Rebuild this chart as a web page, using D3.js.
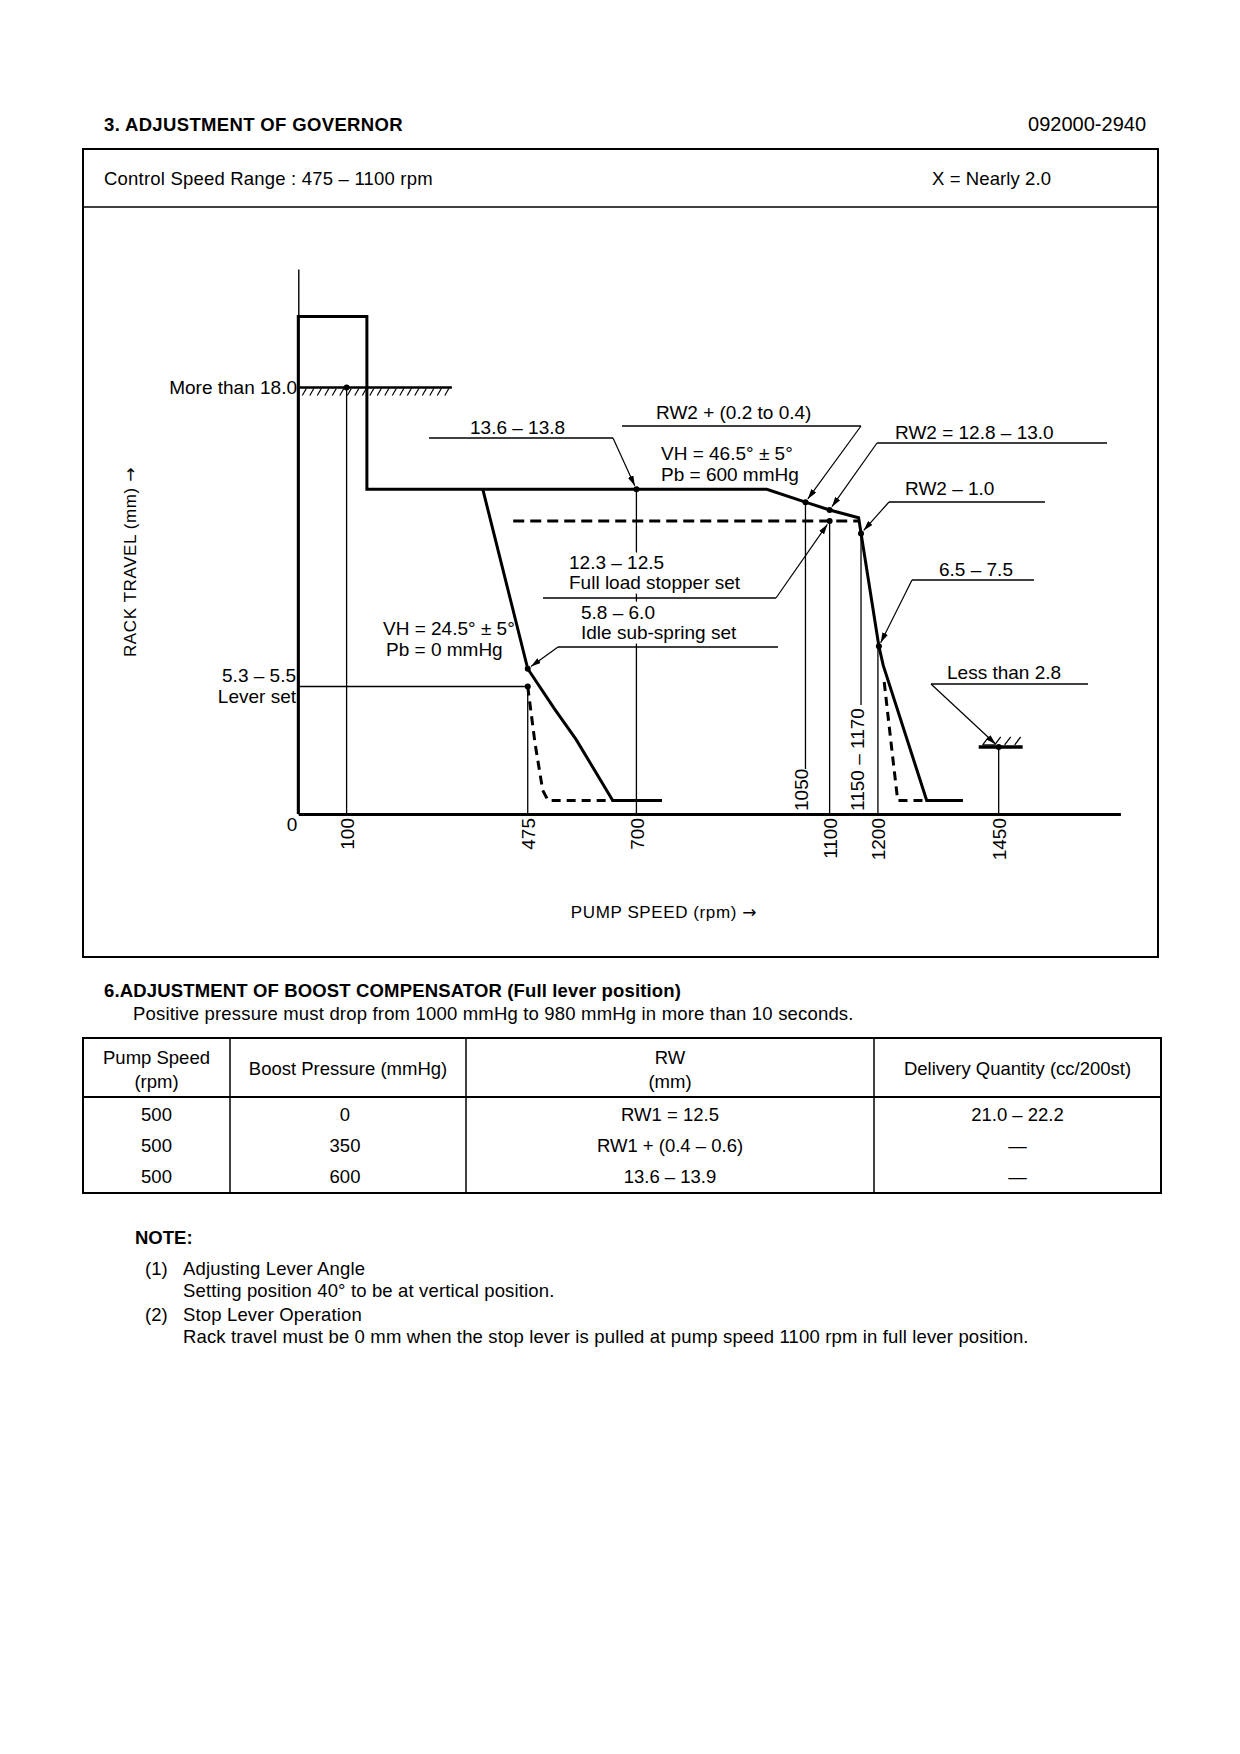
<!DOCTYPE html>
<html><head><meta charset="utf-8">
<script src="https://cdn.jsdelivr.net/npm/d3@7"></script>
<style>
body{margin:0;background:#fff}
svg text{font-family:"Liberation Sans",Arial,Helvetica,sans-serif;fill:#000}
</style></head><body>
<svg id="page" width="1240" height="1754"></svg>
<script>
// ---------------- DATA ----------------
const xTickValues = [100, 475, 700, 1100, 1200, 1450];
const xInnerTicks = [1050, 1165];
const xInnerTickLabels = ["1050", "1150 – 1170"];
const solidCurve = [[0,0],[0,21],[142,21],[142,13.7],[970,13.7],[1050,13.16],[1100,12.83],[1160,12.5],[1202,7.08],[1211,6.27],[1301,0.57],[1376,0.57]];
const idleCurve = [[382,13.7],[475,6.13],[530,4.45],[575,3.15],[651,0.57],[753,0.57]];
const idleDashed = [[475,5.38],[490,3.0],[506,1.0],[517,0.57],[651,0.57]];
const cutoffDashed = [[1213,5.57],[1230,2.5],[1241,0.57],[1301,0.57]];
const stopperLine = [[445,12.36],[1160,12.36]];
const refRpm = [100, 475, 700, 1050, 1100, 1165, 1200, 1450];
const refFrom = [0, 0, 0, 1.9, 0, 4.6, 0, 0];
const refTo = [18, 5.38, 13.7, 13.16, 12.36, 11.84, 7.08, 2.83];
const pointRpm = [100, 475, 475, 700, 1050, 1100, 1100, 1165, 1202, 1450];
const pointMm = [18, 6.13, 5.38, 13.7, 13.16, 12.83, 12.36, 11.84, 7.08, 2.83];
const maxRackMm = 18.0, maxRackEnd = 318;
const leverSetMm = 5.38, leverSetRpm = 475;
const annTexts = [
  ["13.6 – 13.8"],
  ["RW2 + (0.2 to 0.4)"],
  ["RW2 = 12.8 – 13.0"],
  ["RW2 – 1.0"],
  ["6.5 – 7.5"],
  ["Less than 2.8"],
  ["12.3 – 12.5", "Full load stopper set"],
  ["5.8 – 6.0", "Idle sub-spring set"]
];
const annTarget = [3, 4, 5, 7, 8, 9, 6, 1]; // index into points
const tableHeader = [["Pump Speed","(rpm)"],["Boost Pressure (mmHg)"],["RW","(mm)"],["Delivery Quantity (cc/200st)"]];
const tableRows = [
  ["500","0","RW1 = 12.5","21.0 – 22.2"],
  ["500","350","RW1 + (0.4 – 0.6)","—"],
  ["500","600","13.6 – 13.9","—"]
];
const noteLines = [
  ["(1)","Adjusting Lever Angle"],
  ["","Setting position 40° to be at vertical position."],
  ["(2)","Stop Lever Operation"],
  ["","Rack travel must be 0 mm when the stop lever is pulled at pump speed 1100 rpm in full lever position."]
];

// ---------------- LAYOUT ----------------
const svg = d3.select("#page");
const FS = 18.5, CFS = 19;
function txt(parent, x, y, s, o = {}) {
  const t = parent.append("text").attr("x", x).attr("y", y).text(s)
    .style("font-size", (o.size || FS) + "px");
  if (o.bold) t.style("font-weight", "bold");
  if (o.anchor) t.attr("text-anchor", o.anchor);
  if (o.ls) t.style("letter-spacing", o.ls + "px");
  if (o.halo) t.style("stroke", "#fff").style("stroke-width", o.halo).style("paint-order", "stroke").style("stroke-linejoin", "round");
  return t;
}

// header
txt(svg, 104, 131, "3.  ADJUSTMENT OF GOVERNOR", {bold: true, ls: 0.35});
txt(svg, 1146, 131, "092000-2940", {anchor: "end", size: 20});
svg.append("rect").attr("x", 83).attr("y", 149).attr("width", 1075).attr("height", 808)
  .attr("fill", "none").attr("stroke", "#000").attr("stroke-width", 2);
svg.append("line").attr("x1", 83).attr("x2", 1158).attr("y1", 207).attr("y2", 207)
  .attr("stroke", "#000").attr("stroke-width", 1.5);
txt(svg, 104, 185, "Control Speed Range : 475 – 1100 rpm", {ls: 0.2});
txt(svg, 932, 185, "X = Nearly 2.0", {ls: 0.1});

// scales
const x = d3.scaleLinear().domain([0, 1702]).range([298.3, 1120.4]);
const y = d3.scaleLinear().domain([0, 23]).range([814, 269]);
const gRef = svg.append("g");
const gText = svg.append("g");
const gLead = svg.append("g");
const gCurve = svg.append("g");

// y axis (thin)
const ya = gCurve.append("g").attr("transform", `translate(${x(0)},0)`)
  .call(d3.axisLeft(y).tickValues([]).tickSizeOuter(0));
ya.select(".domain").attr("stroke-width", 1.4);

// x axis
const xa = gCurve.append("g").attr("transform", `translate(0,${y(0)})`)
  .call(d3.axisBottom(x).tickValues(xTickValues).tickSize(0).tickSizeOuter(0).tickFormat(d3.format("d")));
xa.select(".domain").attr("stroke-width", 3);
xa.selectAll("text")
  .attr("transform", "rotate(-90)").attr("text-anchor", "end")
  .attr("x", -4).attr("y", 0).attr("dy", "0.36em")
  .style("font-size", CFS + "px").style("font-family", "Liberation Sans, Arial, sans-serif");
txt(gText, 292, 831, "0", {anchor: "middle", size: CFS});

// inner tick labels (above axis)
xInnerTicks.forEach((v, i) => {
  gText.append("text").attr("transform", `translate(${x(v) - 4},${y(0) - 3}) rotate(-90)`)
    .attr("dy", "0.36em").text(xInnerTickLabels[i]).style("font-size", CFS + "px");
});

// reference vertical thin lines
refRpm.forEach((r, i) => {
  gRef.append("line").attr("x1", x(r)).attr("x2", x(r)).attr("y1", y(refFrom[i])).attr("y2", y(refTo[i]))
    .attr("stroke", "#000").attr("stroke-width", 1.3);
});
// lever set line
gRef.append("line").attr("x1", x(0)).attr("x2", x(leverSetRpm)).attr("y1", y(leverSetMm)).attr("y2", y(leverSetMm))
  .attr("stroke", "#000").attr("stroke-width", 1.4);

// max rack hatch line
gCurve.append("line").attr("x1", x(0)).attr("x2", x(maxRackEnd)).attr("y1", y(maxRackMm)).attr("y2", y(maxRackMm))
  .attr("stroke", "#000").attr("stroke-width", 2.5);
const hatch = d3.range(x(0) + 4, x(maxRackEnd) - 3, 7.5);
gCurve.selectAll(".h18").data(hatch).join("line")
  .attr("x1", d => d).attr("x2", d => d + 4)
  .attr("y1", y(maxRackMm) + 8).attr("y2", y(maxRackMm) + 1)
  .attr("stroke", "#000").attr("stroke-width", 1.2);

// curves
const line = d3.line().x(d => x(d[0])).y(d => y(d[1]));
gCurve.append("path").attr("d", line(solidCurve)).attr("fill", "none").attr("stroke", "#000")
  .attr("stroke-width", 3).attr("stroke-linejoin", "miter");
gCurve.append("path").attr("d", line(idleCurve)).attr("fill", "none").attr("stroke", "#000").attr("stroke-width", 3);
gCurve.append("path").attr("d", line(idleDashed)).attr("fill", "none").attr("stroke", "#000")
  .attr("stroke-width", 3).attr("stroke-dasharray", "9,6");
gCurve.append("path").attr("d", line(cutoffDashed)).attr("fill", "none").attr("stroke", "#000")
  .attr("stroke-width", 3).attr("stroke-dasharray", "9,6");
gCurve.append("path").attr("d", line(stopperLine)).attr("fill", "none").attr("stroke", "#000")
  .attr("stroke-width", 3).attr("stroke-dasharray", "11,6");

// stop symbol at 1450
const sx = x(1450), sy = y(2.83);
gCurve.append("line").attr("x1", sx - 20).attr("x2", sx + 24).attr("y1", sy).attr("y2", sy)
  .attr("stroke", "#000").attr("stroke-width", 3.5);
[-16, -4, 6, 16].forEach(d => gCurve.append("line").attr("x1", sx + d).attr("x2", sx + d + 6)
  .attr("y1", sy - 2).attr("y2", sy - 10).attr("stroke", "#000").attr("stroke-width", 1.3));
gCurve.append("line").attr("x1", sx - 16).attr("x2", sx - 4).attr("y1", sy - 2).attr("y2", sy - 2)
  .attr("stroke", "#000").attr("stroke-width", 1.3);

// points
gCurve.selectAll(".pt").data(pointRpm).join("circle")
  .attr("cx", d => x(d)).attr("cy", (d, i) => y(pointMm[i])).attr("r", 3).attr("fill", "#000");

// y labels
txt(gText, 297, y(18) + 7, "More than 18.0", {anchor: "end", size: CFS});
txt(gText, 296, y(leverSetMm) - 5, "5.3 – 5.5", {anchor: "end", size: CFS});
txt(gText, 296, y(leverSetMm) + 16, "Lever set", {anchor: "end", size: CFS});

// axis titles
const yt = svg.append("text").attr("transform", "translate(136,562) rotate(-90)").attr("text-anchor", "middle")
  .style("font-size", "17px").style("letter-spacing", "0.6px");
yt.append("tspan").text("RACK TRAVEL (mm) ");
yt.append("tspan").text("→").style("font-family", "DejaVu Sans");
const xt = svg.append("text").attr("x", 664).attr("y", 918).attr("text-anchor", "middle")
  .style("font-size", "17px").style("letter-spacing", "0.6px");
xt.append("tspan").text("PUMP SPEED (rpm) ");
xt.append("tspan").text("→").style("font-family", "DejaVu Sans");

// other notes in chart
txt(gText, 383, 635, "VH = 24.5° ± 5°", {size: CFS});
txt(gText, 386, 656, "Pb = 0 mmHg", {size: CFS});
txt(gText, 661, 460, "VH = 46.5° ± 5°", {size: CFS, halo: 5});
txt(gText, 661, 481, "Pb = 600 mmHg", {size: CFS, halo: 5});

// annotations: layout (text x, first baseline, underline x1,x2,y, leader start x)
const annLayout = [
  {tx: 470, ty: 434, u: [429, 613, 438], lx: 613},
  {tx: 656, ty: 419, u: [622, 861, 426], lx: 861},
  {tx: 895, ty: 439, u: [877, 1107, 443], lx: 877},
  {tx: 905, ty: 495, u: [889, 1045, 502], lx: 889},
  {tx: 939, ty: 576, u: [912, 1034, 580], lx: 912},
  {tx: 947, ty: 679, u: [931, 1088, 684], lx: 931},
  {tx: 569, ty: 569, u: [543, 776, 598], lx: 776},
  {tx: 581, ty: 619, u: [558, 778, 647], lx: 558}
];
svg.append("defs").append("marker").attr("id", "ah").attr("viewBox", "0 0 10 6")
  .attr("refX", 10).attr("refY", 3).attr("markerWidth", 10).attr("markerHeight", 6)
  .attr("markerUnits", "userSpaceOnUse").attr("orient", "auto")
  .append("path").attr("d", "M0,0 L10,3 L0,6 Z").attr("fill", "#000");
annTexts.forEach((lines, i) => {
  const L = annLayout[i];
  lines.forEach((s, k) => txt(gText, L.tx, L.ty + k * 20, s, {size: CFS, halo: 9}));
  gLead.append("line").attr("x1", L.u[0]).attr("x2", L.u[1]).attr("y1", L.u[2]).attr("y2", L.u[2])
    .attr("stroke", "#000").attr("stroke-width", 1.3);
  const p = annTarget[i];
  const px = x(pointRpm[p]), py = y(pointMm[p]);
  const dx = px - L.lx, dy = py - L.u[2], len = Math.hypot(dx, dy);
  gLead.append("line").attr("x1", L.lx).attr("y1", L.u[2])
    .attr("x2", px - dx / len * 4).attr("y2", py - dy / len * 4)
    .attr("stroke", "#000").attr("stroke-width", 1.2).attr("marker-end", "url(#ah)");
});

// ---------------- SECTION 6 ----------------
txt(svg, 104, 997, "6.ADJUSTMENT OF BOOST COMPENSATOR (Full lever position)", {bold: true, ls: 0.15});
txt(svg, 133, 1020, "Positive pressure must drop from 1000 mmHg to 980 mmHg in more than 10 seconds.", {ls: 0.18});
const tX = [83, 230, 466, 874, 1161];
const tTop = 1038, tHead = 1097, tBot = 1193;
svg.append("rect").attr("x", tX[0]).attr("y", tTop).attr("width", tX[4] - tX[0]).attr("height", tBot - tTop)
  .attr("fill", "none").attr("stroke", "#000").attr("stroke-width", 2);
svg.append("line").attr("x1", tX[0]).attr("x2", tX[4]).attr("y1", tHead).attr("y2", tHead)
  .attr("stroke", "#000").attr("stroke-width", 2);
tX.slice(1, 4).forEach(v => svg.append("line").attr("x1", v).attr("x2", v).attr("y1", tTop).attr("y2", tBot)
  .attr("stroke", "#000").attr("stroke-width", 1.5));
tableHeader.forEach((h, c) => {
  const cx = (tX[c] + tX[c + 1]) / 2;
  if (h.length === 2) { txt(svg, cx, 1064, h[0], {anchor: "middle"}); txt(svg, cx, 1088, h[1], {anchor: "middle"}); }
  else txt(svg, cx, 1075, h[0], {anchor: "middle"});
});
const rowY = [1121, 1152, 1183];
tableRows.forEach((r, ri) => r.forEach((s, c) => {
  const cx = (tX[c] + tX[c + 1]) / 2 + (c === 1 ? -3 : 0);
  txt(svg, cx, rowY[ri], s, {anchor: "middle"});
}));

// NOTE
txt(svg, 135, 1244, "NOTE:", {bold: true});
const noteY = [1275, 1297, 1321, 1343];
noteLines.forEach((n, i) => {
  if (n[0]) txt(svg, 145, noteY[i], n[0]);
  txt(svg, 183, noteY[i], n[1], {ls: 0.15});
});
</script>
</body></html>
